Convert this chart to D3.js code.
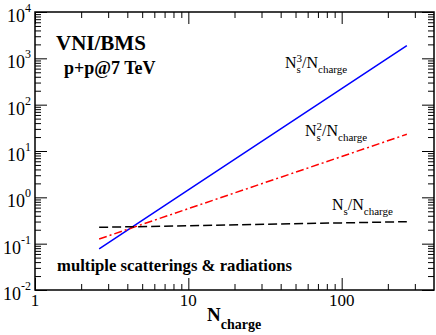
<!DOCTYPE html>
<html>
<head>
<meta charset="utf-8">
<script src="https://cdn.jsdelivr.net/npm/d3@7"></script>
<style>
  body { margin: 0; background: #fff; }
  text { font-family: "Liberation Serif", "Times New Roman", serif; fill: #000; }
</style>
</head>
<body>
<div class="graphContainer"></div>
<script>
// Values (log-log, straight lines)
const nCharge = [2.62, 10, 100, 266];
const ns3 = [0.077, 1.44, 221, 1875];
const ns2 = [0.126, 0.57, 7.6, 23];
const ns1 = [0.225, 0.244, 0.281, 0.298];

const xMajor = [1, 10, 100];
const yMajor = [1e-2, 1e-1, 1e0, 1e1, 1e2, 1e3, 1e4];
const yExp = ['-2', '-1', '0', '1', '2', '3', '4'];

const width = 436, height = 335;
const plot = { left: 35, right: 434, top: 12, bottom: 290 };

const svg = d3.select('.graphContainer')
    .append('svg')
    .attr('width', width)
    .attr('height', height);

const x = d3.scaleLog().domain([1, 400]).range([plot.left, plot.right]);
const y = d3.scaleLog().domain([1e-2, 1e4]).range([plot.bottom, plot.top]);

// minor tick values (2..9 per decade)
const minors = (lo, hi, max) => {
    const out = [];
    for (let p = lo; p < hi; p++) {
        for (let k = 2; k <= 9; k++) {
            const v = k * Math.pow(10, p);
            if (v < max) out.push(v);
        }
    }
    return out;
};
const xMinor = minors(0, 3, 400);
const yMinor = minors(-2, 4, 1e4);

const drawTicks = (axisFn, scale, values, size, transform) => {
    const g = svg.append('g')
        .attr('transform', transform)
        .call(axisFn(scale).tickValues(values).tickSize(size).tickFormat(''));
    g.select('.domain').remove();
    g.selectAll('line').attr('stroke', '#000').attr('stroke-width', 1);
};

// ticks on all four sides, pointing inward
drawTicks(d3.axisBottom, x, xMajor, -12, `translate(0,${plot.bottom})`);
drawTicks(d3.axisBottom, x, xMinor, -6, `translate(0,${plot.bottom})`);
drawTicks(d3.axisTop, x, xMajor, -12, `translate(0,${plot.top})`);
drawTicks(d3.axisTop, x, xMinor, -6, `translate(0,${plot.top})`);
drawTicks(d3.axisLeft, y, yMajor, -12, `translate(${plot.left},0)`);
drawTicks(d3.axisLeft, y, yMinor, -6, `translate(${plot.left},0)`);
drawTicks(d3.axisRight, y, yMajor, -12, `translate(${plot.right},0)`);
drawTicks(d3.axisRight, y, yMinor, -6, `translate(${plot.right},0)`);

// frame
svg.append('rect')
    .attr('x', plot.left).attr('y', plot.top)
    .attr('width', plot.right - plot.left).attr('height', plot.bottom - plot.top)
    .attr('fill', 'none')
    .attr('stroke', '#000')
    .attr('stroke-width', 1.5);

// x tick labels
svg.selectAll('.xlab')
    .data(xMajor)
    .enter()
    .append('text')
    .attr('x', d => x(d))
    .attr('y', plot.bottom + 16)
    .attr('text-anchor', 'middle')
    .attr('font-size', 17)
    .text(d => d);

// y tick labels 10^n
const ylab = svg.selectAll('.ylab')
    .data(yMajor)
    .enter()
    .append('text')
    .attr('x', 31)
    .attr('y', d => y(d) + 10)
    .attr('text-anchor', 'end')
    .attr('font-size', 18);
ylab.append('tspan').text('10');
ylab.append('tspan')
    .attr('font-size', 12)
    .attr('dy', -10)
    .text((d, i) => yExp[i]);

// series
const line = d3.line()
    .x((d, i) => x(nCharge[i]))
    .y(d => y(d));

const series = [
    { values: ns3, color: '#0000ff', dash: null },
    { values: ns2, color: '#ff0000', dash: '8,3,2,3' },
    { values: ns1, color: '#000000', dash: '9,4' }
];

series.forEach(s => {
    svg.append('path')
        .datum(s.values)
        .attr('fill', 'none')
        .attr('stroke', s.color)
        .attr('stroke-width', 1.5)
        .attr('stroke-dasharray', s.dash)
        .attr('d', line);
});

// curve labels
const curveLabel = (px, py, power) => {
    const t = svg.append('text')
        .attr('x', px).attr('y', py)
        .attr('font-size', 16);
    t.append('tspan').text('N');
    t.append('tspan').attr('font-size', 11).attr('dy', 5).text('s');
    if (power) {
        t.append('tspan').attr('font-size', 11).attr('dx', -4.3).attr('dy', -11).text(power);
        t.append('tspan').attr('dy', 6).text('/N');
    } else {
        t.append('tspan').attr('dy', -5).text('/N');
    }
    t.append('tspan').attr('font-size', 11).attr('dy', 5).text('charge');
};
curveLabel(285, 68, '3');
curveLabel(305, 136, '2');
curveLabel(332, 210, null);

// annotations
svg.append('text')
    .attr('x', 56).attr('y', 50)
    .attr('font-size', 21)
    .attr('font-weight', 'bold')
    .text('VNI/BMS');

svg.append('text')
    .attr('x', 64).attr('y', 74)
    .attr('font-size', 18)
    .attr('font-weight', 'bold')
    .text('p+p@7 TeV');

svg.append('text')
    .attr('x', 57).attr('y', 271)
    .attr('font-size', 16.7)
    .attr('font-weight', 'bold')
    .text('multiple scatterings & radiations');

// x axis title
const xt = svg.append('text')
    .attr('x', 207).attr('y', 321)
    .attr('font-size', 19)
    .attr('font-weight', 'bold');
xt.append('tspan').text('N');
xt.append('tspan').attr('font-size', 14).attr('dy', 8).text('charge');
</script>
</body>
</html>
